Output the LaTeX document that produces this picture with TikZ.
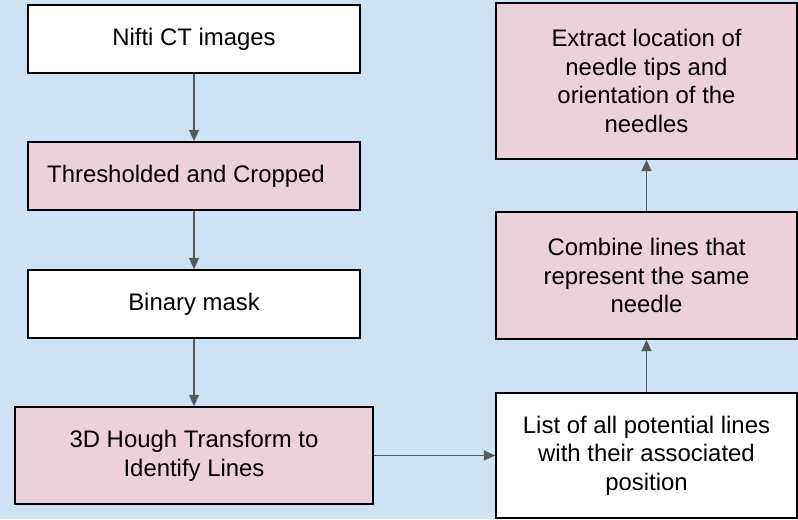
\documentclass[tikz,border=0pt]{standalone}
\usepackage{fontspec}
\setmainfont{Liberation Sans}
\usetikzlibrary{arrows.meta}

\definecolor{bgblue}{HTML}{CFE2F3}
\definecolor{stagepink}{HTML}{EAD1DC}
\definecolor{flowgray}{HTML}{595959}

\tikzset{
	stage/.style={draw=black, line width=1.1pt, align=center, font=\fontsize{17}{20.4}\selectfont},
	flow/.style={draw=flowgray, line width=1.1pt, -{Triangle[length=8pt, width=7pt]}}
}

\begin{document}
\begin{tikzpicture}
\fill[bgblue] (0, 0) rectangle (19.95, 12.975);
\useasboundingbox (0, 0) rectangle (19.95, 12.975);

% left column
\node[stage, fill=white, minimum width=8.3cm, minimum height=1.7cm] (nifti) at (4.85, 12.0) {Nifti CT images};
\node[stage, fill=stagepink, minimum width=8.3cm, minimum height=1.7cm] (crop) at (4.85, 8.575) {Thresholded and Cropped\hspace{0.4cm}};
\node[stage, fill=white, minimum width=8.3cm, minimum height=1.7cm] (mask) at (4.85, 5.375) {Binary mask};
\node[stage, fill=stagepink, minimum width=8.95cm, minimum height=2.425cm] (hough) at (4.85, 1.5875) {3D Hough Transform to\\Identify Lines};

% right column
\node[stage, fill=white, minimum width=7.525cm, minimum height=3.125cm] (list) at (16.1625, 1.5875) {List of all potential lines\\with their associated\\position};
\node[stage, fill=stagepink, minimum width=7.525cm, minimum height=3.175cm] (combine) at (16.1625, 6.0875) {Combine lines that\\represent the same\\needle};
\node[stage, fill=stagepink, minimum width=7.525cm, minimum height=3.9cm] (extract) at (16.1625, 10.95) {Extract location of\\needle tips and\\orientation of the\\needles};

\draw[flow] (nifti) -- (crop);
\draw[flow] (crop) -- (mask);
\draw[flow] (mask) -- (hough);
\draw[flow] (hough) -- (list);
\draw[flow] (list) -- (combine);
\draw[flow] (combine) -- (extract);
\end{tikzpicture}
\end{document}
